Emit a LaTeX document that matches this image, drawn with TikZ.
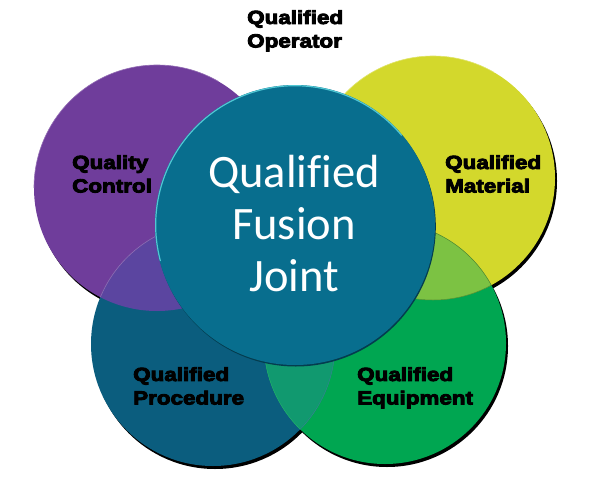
\documentclass[tikz,border=0pt]{standalone}
\usepackage{fontspec}
\setmainfont{Carlito}[Ligatures={NoCommon}]
\newfontfamily\heavy{Liberation Sans}[UprightFont={* Bold}, FakeStretch=1.18]
\newcommand\hvtext[1]{\special{pdf:literal direct 2 Tr 0.9 w 0 G}#1\special{pdf:literal direct 0 Tr}}
\definecolor{cpurple}{HTML}{6F3D9B}
\definecolor{cpurpleproc}{HTML}{5B45A0}
\definecolor{cyellow}{HTML}{D3D82C}
\definecolor{cyelgreen}{HTML}{7CC243}
\definecolor{cgreen}{HTML}{00A651}
\definecolor{cproc}{HTML}{0B5D7E}
\definecolor{cprocgreen}{HTML}{11996F}
\definecolor{ccentral}{HTML}{086E8E}
\begin{document}
\begin{tikzpicture}[x=1pt,y=-1pt,
  lbl/.style={font=\heavy\fontsize{19}{23.5}\selectfont, align=left, anchor=north west, inner sep=0pt, text=black},
  bigtxt/.style={font=\fontsize{46.5}{52}\selectfont, align=center, anchor=north, inner sep=0pt, text=white}]
\useasboundingbox (0,0) rectangle (602,495);
\fill[white] (0,0) rectangle (602,495);
% shadows
\foreach \cx/\cy/\r in {157/188/123, 433/178/122, 213/344/122, 385/343/121}
  \fill[black] (\cx+2,\cy+3) circle[radius=\r];
% outer circles
\fill[cpurple] (157,188) circle[radius=123];
\fill[cyellow] (433,178) circle[radius=122];
\fill[cproc] (213,344) circle[radius=122];
\fill[cgreen] (385,343) circle[radius=121];
% intersections
\begin{scope}
  \clip (157,188) circle[radius=123];
  \fill[cpurpleproc] (213,344) circle[radius=122];
  \draw[cpurple!75!white, line width=0.6pt] (213,344) circle[radius=122];
\end{scope}
\begin{scope}
  \clip (433,178) circle[radius=122];
  \fill[cyelgreen] (385,343) circle[radius=121];
\end{scope}
\begin{scope}
  \clip (213,344) circle[radius=122];
  \fill[cprocgreen] (385,343) circle[radius=121];
  \draw[cgreen!85!white, line width=0.4pt] (385,343) circle[radius=121];
\end{scope}
\begin{scope}
  \clip (385,343) circle[radius=121];
  \draw[cproc!80!white, line width=0.4pt] (213,344) circle[radius=122];
\end{scope}
\begin{scope}
  \clip (433,178) circle[radius=122];
  \draw[black!30!cyelgreen, line width=0.5pt] (385,343) circle[radius=121];
\end{scope}
\begin{scope}
  \clip (385,343) circle[radius=121];
  \draw[black!25!cyelgreen, line width=0.5pt] (433,178) circle[radius=122];
\end{scope}
% rims of outer circles
\draw[cpurple!75!white, line width=0.6pt] (157,188) ++(180:123) arc[start angle=180, end angle=300, radius=123];
\draw[cyellow!70!white, line width=0.6pt] (433,178) ++(190:122) arc[start angle=190, end angle=300, radius=122];
% central circle
\fill[black!45!ccentral] (295.8,226.5) circle[radius=140];
\fill[ccentral] (295,225) circle[radius=140];
\draw[ccentral!55!cyan!70!white, line width=1.2pt] (295,225) ++(165:139.3) arc[start angle=165, end angle=320, radius=139.3];
% texts
\node[bigtxt] (center) at (294,155) {Qualified\\Fusion\\Joint};
\node[lbl] (qc) at (72,155) {\hvtext{Quality\\Control}};
\node[lbl] (qm) at (445,155) {\hvtext{Qualified\\Material}};
\node[lbl] (qp) at (133,367) {\hvtext{Qualified\\Procedure}};
\node[lbl] (qe) at (357,367) {\hvtext{Qualified\\Equipment}};
\node[lbl] (qo) at (247,10) {\hvtext{Qualified\\Operator}};
\end{tikzpicture}
\end{document}
